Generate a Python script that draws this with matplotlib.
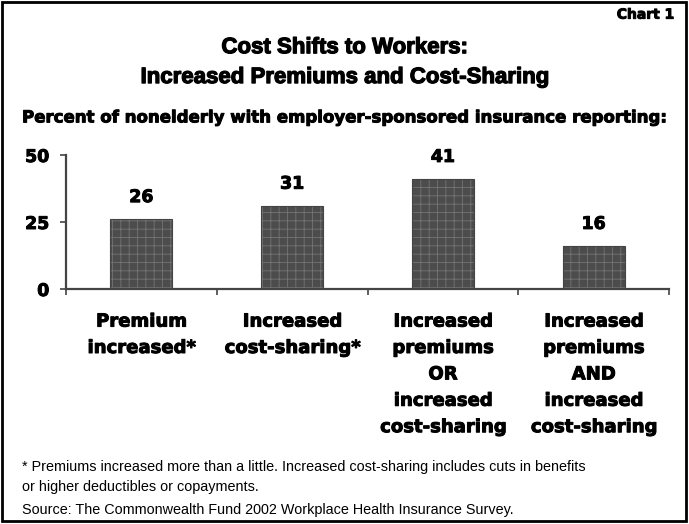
import matplotlib
matplotlib.use('Agg')
import matplotlib.pyplot as plt
import matplotlib.patches as patches
import matplotlib.patheffects as pe

plt.rcParams['font.family'] = ['Liberation Sans', 'DejaVu Sans']
plt.rcParams['hatch.linewidth'] = 0.6

# Data
categories = [
    'Premium\nincreased*',
    'Increased\ncost-sharing*',
    'Increased\npremiums\nOR\nincreased\ncost-sharing',
    'Increased\npremiums\nAND\nincreased\ncost-sharing',
]
values = [26, 31, 41, 16]
yticks = [0, 25, 50]

heavy = dict(family='DejaVu Sans', fontweight='bold',
             path_effects=[pe.withStroke(linewidth=0.7, foreground='black')])
thick = [pe.withStroke(linewidth=0.9, foreground='black')]

fig = plt.figure(figsize=(6.89, 5.24), dpi=100, facecolor='white')
ax = fig.add_axes([0.0958, 0.4485, 0.8752, 0.2557])

x = list(range(len(values)))
ax.bar(x, values, width=0.41, color='#4c4c4c', edgecolor='#747474',
       hatch='++', linewidth=0)
ax.bar(x, values, width=0.41, color='none', edgecolor='#444444', linewidth=0.8)

for xi, v in zip(x, values):
    ax.annotate(str(v), xy=(xi, v), xytext=(0, 9.5), textcoords='offset points',
                ha='center', va='bottom', fontsize=12.5, **heavy)

ax.set_xlim(-0.5, len(values) - 0.5)
ax.set_ylim(0, 50)
ax.set_yticks(yticks)
ax.set_yticklabels([str(t) for t in yticks])
for t in ax.get_yticklabels():
    t.set_fontsize(12.5)
    t.set_family('DejaVu Sans')
    t.set_fontweight('bold')
    t.set_path_effects(heavy['path_effects'])
ax.set_xticks([i - 0.5 for i in range(len(values) + 1)])
ax.set_xticklabels([])
ax.tick_params(axis='y', length=4, width=1.2, pad=8, color='#444444')
ax.tick_params(axis='x', length=4, width=1.2, color='#444444')

for s in ['top', 'right']:
    ax.spines[s].set_visible(False)
for s in ['left', 'bottom']:
    ax.spines[s].set_linewidth(1.6)
    ax.spines[s].set_color('#444444')

# Category labels under the axis
for xi, lab in zip(x, categories):
    ax.annotate(lab, xy=(xi, 0), xytext=(0, -17), textcoords='offset points',
                ha='center', va='top', fontsize=13, linespacing=1.6, **heavy)

# Titles and notes
fig.text(0.5, 0.909, 'Cost Shifts to Workers:', ha='center', va='center',
         fontsize=16, fontweight='bold', path_effects=thick)
fig.text(0.5, 0.852, 'Increased Premiums and Cost-Sharing', ha='center',
         va='center', fontsize=16, fontweight='bold', path_effects=thick)
fig.text(0.979, 0.972, 'Chart 1', ha='right', va='center', fontsize=10,
         **heavy)
fig.text(0.032, 0.776,
         'Percent of nonelderly with employer-sponsored insurance reporting:',
         ha='left', va='center', fontsize=11.95, **heavy)
fig.text(0.032, 0.108,
         '* Premiums increased more than a little. Increased cost-sharing includes cuts in benefits',
         ha='left', va='center', fontsize=10.35)
fig.text(0.032, 0.071, 'or higher deductibles or copayments.',
         ha='left', va='center', fontsize=10.35)
fig.text(0.032, 0.027,
         'Source: The Commonwealth Fund 2002 Workplace Health Insurance Survey.',
         ha='left', va='center', fontsize=10.35)

# Outer frame
fig.patches.append(patches.Rectangle((0.003, 0.006), 0.993, 0.99,
                                     transform=fig.transFigure, fill=False,
                                     edgecolor='black', linewidth=2))

fig.savefig('out.png', dpi=100)
